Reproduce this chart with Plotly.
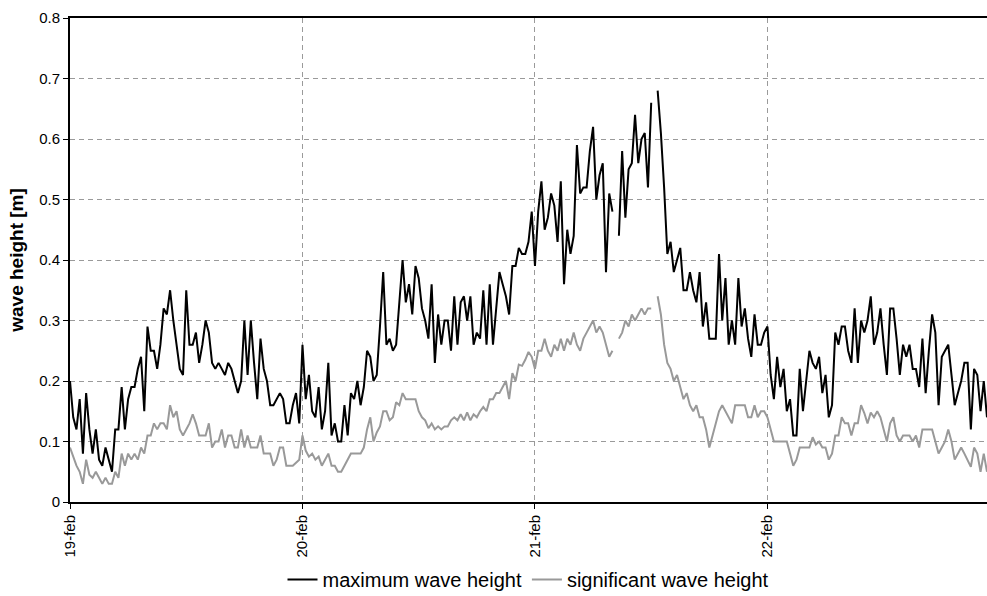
import pandas as pd
import plotly.graph_objects as go

# 20-minute samples, one list per day (None = missing record)
max_day19 = [0.20,0.14,0.12,0.17,0.08,0.18,0.12,0.08,0.12,0.07,
             0.06,0.09,0.07,0.05,0.12,0.12,0.19,0.12,0.17,0.19,
             0.19,0.22,0.24,0.15,0.29,0.25,0.25,0.22,0.26,0.32,
             0.31,0.35,0.30,0.26,0.22,0.21,0.35,0.26,0.26,0.28,
             0.23,0.26,0.30,0.28,0.23,0.22,0.23,0.22,0.21,0.23,
             0.22,0.20,0.18,0.20,0.30,0.21,0.30,0.23,0.17,0.27,
             0.22,0.20,0.16,0.16,0.17,0.18,0.17,0.13,0.13,0.16,
             0.18,0.13]
max_day20 = [0.26,0.17,0.21,0.15,0.14,0.19,0.12,0.15,
             0.23,0.11,0.13,0.10,0.10,0.16,0.11,0.18,0.17,0.20,
             0.16,0.19,0.25,0.24,0.20,0.21,0.29,0.38,0.26,0.27,
             0.25,0.26,0.33,0.40,0.33,0.36,0.31,0.39,0.37,0.32,
             0.30,0.27,0.36,0.23,0.31,0.26,0.30,0.30,0.25,0.34,
             0.26,0.33,0.34,0.30,0.34,0.26,0.28,0.27,0.35,0.26,
             0.36,0.26,0.32,0.38,0.36,0.34,0.31,0.39,0.39,0.42,
             0.41,0.41,0.43,0.48]
max_day21 = [0.39,0.48,0.53,0.45,0.47,0.51,
             0.49,0.43,0.53,0.36,0.45,0.41,0.44,0.59,0.51,0.52,
             0.52,0.58,0.62,0.50,0.54,0.56,0.38,0.51,0.48,None,
             0.44,0.58,0.47,0.55,0.56,0.64,0.56,0.60,0.61,0.52,
             0.66,None,0.68,0.61,0.52,0.41,0.43,0.38,0.40,0.42,
             0.35,0.35,0.38,0.35,0.33,0.38,0.29,0.33,0.27,0.27,
             0.27,0.41,0.30,0.37,0.26,0.30,0.26,0.37,0.29,0.32,
             0.27,0.24,0.31,0.26,0.26,0.28]
max_day22 = [0.29,0.21,0.17,0.24,
             0.19,0.22,0.15,0.17,0.11,0.11,0.22,0.15,0.20,0.25,
             0.23,0.22,0.24,0.18,0.21,0.14,0.16,0.28,0.26,0.29,
             0.29,0.25,0.23,0.32,0.23,0.30,0.28,0.30,0.34,0.26,
             0.28,0.32,0.26,0.21,0.32,0.32,0.27,0.21,0.26,0.24,
             0.26,0.22,0.22,0.19,0.27,0.18,0.25,0.31,0.28,0.16,
             0.24,0.25,0.26,0.21,0.16,0.18,0.20,0.23,0.23,0.12,
             0.22,0.21,0.15,0.20,0.14]

sig_day19 = [0.09,0.075,0.06,0.05,0.03,0.07,0.045,0.04,0.05,0.04,
             0.03,0.04,0.03,0.03,0.05,0.04,0.08,0.06,0.08,0.07,
             0.08,0.07,0.09,0.08,0.11,0.11,0.13,0.12,0.13,0.13,
             0.12,0.16,0.14,0.15,0.12,0.11,0.12,0.13,0.145,0.13,
             0.11,0.11,0.11,0.13,0.09,0.10,0.10,0.12,0.09,0.11,
             0.11,0.09,0.09,0.12,0.09,0.11,0.09,0.09,0.09,0.11,
             0.08,0.08,0.08,0.06,0.07,0.09,0.09,0.06,0.06,0.06,
             0.065,0.07]
sig_day20 = [0.11,0.085,0.075,0.08,0.07,0.075,0.06,0.07,
             0.08,0.06,0.06,0.05,0.05,0.06,0.07,0.08,0.08,0.08,
             0.08,0.09,0.12,0.14,0.10,0.115,0.125,0.15,0.15,0.135,
             0.14,0.165,0.16,0.18,0.17,0.17,0.17,0.17,0.15,0.14,
             0.135,0.122,0.13,0.12,0.125,0.12,0.125,0.125,0.135,0.14,
             0.135,0.145,0.135,0.148,0.135,0.145,0.14,0.15,0.157,0.15,
             0.17,0.17,0.18,0.18,0.19,0.20,0.17,0.213,0.20,0.227,
             0.225,0.235,0.248,0.24]
sig_day21 = [0.22,0.25,0.25,0.27,0.25,0.24,
             0.26,0.25,0.27,0.25,0.27,0.26,0.28,0.26,0.25,0.27,
             0.28,0.29,0.30,0.28,0.29,0.28,0.26,0.24,0.25,None,
             0.27,0.28,0.30,0.29,0.31,0.30,0.31,0.32,0.31,0.32,
             0.32,None,0.34,0.31,0.26,0.23,0.22,0.20,0.21,0.19,
             0.17,0.18,0.16,0.15,0.16,0.14,0.14,0.12,0.09,0.11,
             0.13,0.15,0.16,0.15,0.14,0.13,0.16,0.16,0.16,0.16,
             0.14,0.14,0.16,0.14,0.15,0.15]
sig_day22 = [0.14,0.12,0.10,0.10,
             0.10,0.10,0.10,0.08,0.06,0.07,0.09,0.09,0.09,0.09,
             0.107,0.095,0.10,0.09,0.09,0.07,0.08,0.11,0.11,0.14,
             0.13,0.13,0.11,0.13,0.13,0.16,0.147,0.13,0.148,0.14,
             0.15,0.14,0.12,0.10,0.13,0.14,0.11,0.10,0.11,0.11,
             0.11,0.10,0.11,0.09,0.12,0.12,0.12,0.12,0.10,0.08,
             0.09,0.10,0.12,0.10,0.07,0.08,0.09,0.08,0.07,0.058,
             0.09,0.08,0.05,0.08,0.05]

day_ticks = ["2009-02-19", "2009-02-20", "2009-02-21", "2009-02-22"]
day_labels = ["19-feb", "20-feb", "21-feb", "22-feb"]
y_ticks = [0, 0.1, 0.2, 0.3, 0.4, 0.5, 0.6, 0.7, 0.8]
y_labels = ["0", "0.1", "0.2", "0.3", "0.4", "0.5", "0.6", "0.7", "0.8"]

max_height = max_day19 + max_day20 + max_day21 + max_day22
sig_height = sig_day19 + sig_day20 + sig_day21 + sig_day22

t_max = pd.date_range("2009-02-19", periods=len(max_height), freq="20min")
t_sig = pd.date_range("2009-02-19", periods=len(sig_height), freq="20min")

fig = go.Figure()
fig.add_trace(go.Scatter(x=t_max, y=max_height, mode="lines",
                         name="maximum wave height",
                         line=dict(color="#000000", width=2)))
fig.add_trace(go.Scatter(x=t_sig, y=sig_height, mode="lines",
                         name="significant wave height",
                         line=dict(color="#999999", width=2)))

fig.update_layout(
    width=987, height=596,
    margin=dict(l=70, r=0, t=18, b=94, autoexpand=False),
    plot_bgcolor="white", paper_bgcolor="white",
    font=dict(family="Liberation Sans, Arial, sans-serif", size=15, color="black"),
    showlegend=True,
    legend=dict(orientation="h", x=0.5, xanchor="center", y=-0.16, yanchor="middle",
                font=dict(size=20), itemwidth=30, bgcolor="rgba(0,0,0,0)"),
)
fig.update_xaxes(
    type="date",
    range=[t_max[0], t_max[-1]],
    tickmode="array", tickvals=day_ticks, ticktext=day_labels, tickangle=-90,
    tickfont=dict(size=15),
    showgrid=True, gridcolor="#9a9a9a", griddash="5px,4px", gridwidth=1,
    ticks="outside", ticklen=5, tickcolor="black", tickwidth=1,
    showline=True, linecolor="black", linewidth=2, mirror=True,
    zeroline=False, automargin=False,
)
fig.update_yaxes(
    range=[0, 0.8],
    tickmode="array", tickvals=y_ticks, ticktext=y_labels,
    tickfont=dict(size=15),
    showgrid=True, gridcolor="#9a9a9a", griddash="5px,4px", gridwidth=1,
    ticks="outside", ticklen=5, tickcolor="black", tickwidth=1,
    showline=True, linecolor="black", linewidth=2,
    zeroline=False, automargin=False,
    title=dict(text="<b>wave height [m]</b>", font=dict(size=19), standoff=10),
)

fig.write_html("out.html",
               config={"displayModeBar": False},
               post_script="document.body.style.margin='0';document.body.style.overflow='hidden';")
